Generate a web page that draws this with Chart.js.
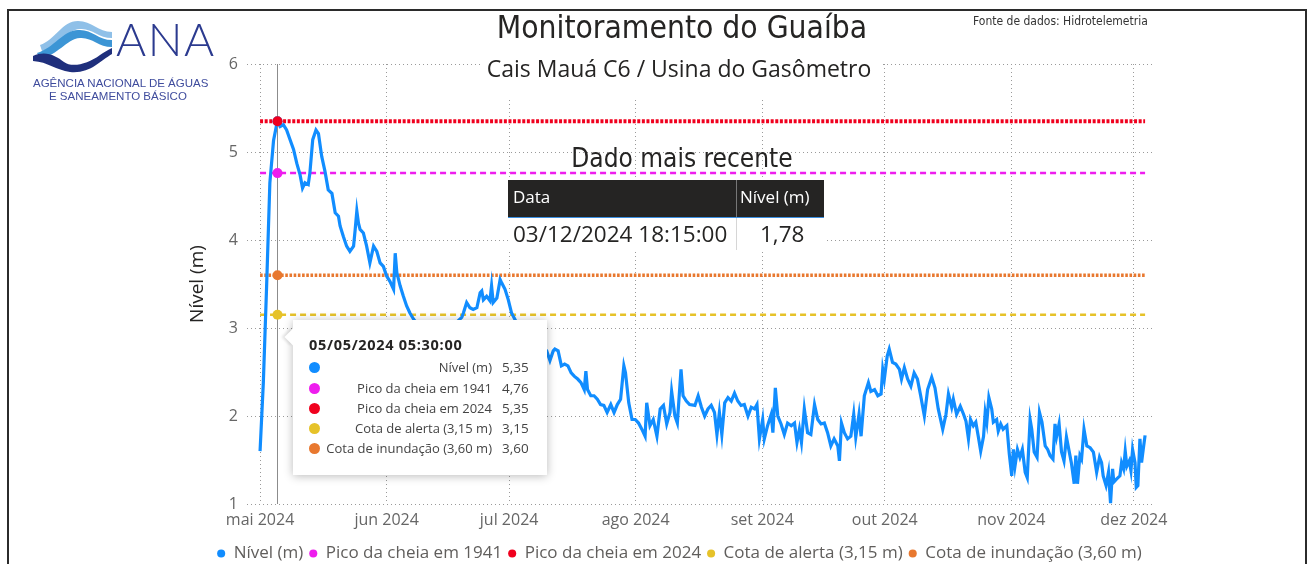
<!DOCTYPE html>
<html lang="pt-BR">
<head>
<meta charset="utf-8">
<title>Monitoramento do Guaíba</title>
<script src="https://cdn.jsdelivr.net/npm/chart.js@4.4.1/dist/chart.umd.min.js"></script>
<style>
    body { margin: 0; background: #fff; }
    #pagina { position: relative; width: 1312px; height: 564px; overflow: hidden; background: #fff; }
    #moldura { position: absolute; left: 7px; top: 9px; width: 1300px; height: 620px; border: 2px solid #2b2b2b; box-sizing: border-box; }
    #grafico { position: absolute; left: 0; top: 0; }
    .txt { position: absolute; white-space: nowrap; color: #252423; }
    .din { font-family: 'DejaVu Sans Condensed', 'DejaVu Sans', sans-serif; }
    .ui { font-family: 'Open Sans', 'Noto Sans', sans-serif; }
    #logoTexto { position: absolute; left: 116px; top: 16px; font-family: Lato, 'Open Sans', sans-serif; font-weight: 300; font-size: 46px; letter-spacing: 1.5px; color: #2b3a8f; line-height: 1; }
    .logoSub { position: absolute; font-family: 'Liberation Sans', Arial, sans-serif; font-size: 11.5px; color: #3f4c9d; line-height: 1; }
    #fundoSubtitulo { position: absolute; left: 482px; top: 48px; width: 400px; height: 49px; background: #fff; }
    #tabela { position: absolute; left: 508px; top: 180px; width: 316px; }
    #cabecalho { position: relative; height: 37px; background: #252423; border-bottom: 1px solid #3b8fe0; }
    #linha { position: relative; height: 32px; background: #fff; }
    .sep { position: absolute; left: 228px; top: 0; width: 1px; height: 100%; }
    #dica { position: absolute; left: 293px; top: 320px; width: 254px; height: 155px; background: #fff; box-shadow: 0 1px 9px rgba(0,0,0,0.28); }
    #ponta { position: absolute; left: -6px; top: 11px; width: 12px; height: 12px; background: #fff; transform: rotate(45deg); box-shadow: -2px 2px 3px rgba(0,0,0,0.12); }
    #dicaCorpo { position: absolute; left: 0; top: 0; width: 254px; height: 155px; background: #fff; }
    .bolinha { position: absolute; width: 11px; height: 11px; border-radius: 50%; }
</style>
</head>
<body>
<div id="pagina">
    <canvas id="grafico" width="1312" height="580"></canvas>
    <div id="moldura"></div>

    <!-- Logo da ANA -->
    <svg style="position:absolute; left:0; top:0" width="120" height="80">
        <path d="M40,45 C55,40 62,21 78,21 C92,21 98,32 112,32 L112,38 C98,38 92,28 80,29 C66,30 58,47 42,51 Z" fill="#8fc0e8"/>
        <path d="M37,53 C54,48 62,31 78,30 C92,29 98,40 112,40 L112,47 C98,47 92,37 80,38 C66,39 58,56 40,58 Z" fill="#3c95d5"/>
        <path d="M33,56 C46,50 56,56 64,62 C72,68 88,64 100,55 C104,52 108,50 112,48 L112,54 C100,61 90,74 70,72 C56,70 48,62 33,61 Z" fill="#1f2f7c"/>
    </svg>
    <div id="logoTexto">ANA</div>
    <div class="logoSub" style="left:33px; top:78px;">AGÊNCIA NACIONAL DE ÁGUAS</div>
    <div class="logoSub" style="left:49px; top:91px;">E SANEAMENTO BÁSICO</div>

    <div class="txt din" id="titulo" style="left:432px; width:500px; text-align:center; top:12px; font-size:31.5px; line-height:1;">Monitoramento do Guaíba</div>
    <div class="txt din" id="fonte" style="left:973px; top:15px; font-size:12px; line-height:1; color:#333;">Fonte de dados: Hidrotelemetria</div>

    <div id="fundoSubtitulo"></div>
    <div class="txt ui" id="subtitulo" style="left:479px; width:400px; text-align:center; top:55px; font-size:23px; line-height:1.2;">Cais Mauá C6 / Usina do Gasômetro</div>

    <div class="txt din" id="tituloTabela" style="left:482px; width:400px; text-align:center; top:145px; font-size:26px; line-height:1;">Dado mais recente</div>
    <div id="tabela">
        <div id="cabecalho">
            <div class="txt ui" style="left:5px; top:7px; font-size:17px; line-height:1.2; color:#fff;">Data</div>
            <div class="sep" style="background:#777;"></div>
            <div class="txt ui" style="left:232px; top:7px; font-size:17px; line-height:1.2; color:#fff;">Nível (m)</div>
        </div>
        <div id="linha">
            <div class="txt ui" id="ultimaData" style="left:5px; top:2px; font-size:22.5px; line-height:1.2;"></div>
            <div class="sep" style="background:#d6d6d6;"></div>
            <div class="txt ui" id="ultimoNivel" style="left:252px; top:2px; font-size:22.5px; line-height:1.2;"></div>
        </div>
    </div>

    <div id="dica">
        <div id="ponta"></div>
        <div id="dicaCorpo"></div>
    </div>
</div>

<script>
// Dias contados a partir de 01/05/2024 00:00 e nível medido (m)
const nivelDias = [
    0.0, 0.8, 1.6, 2.4, 3.3, 4.23, 4.9, 5.7, 6.5, 7.35, 8.2, 9.0, 9.8, 10.4, 11.0, 11.8, 12.2, 12.9, 13.7, 14.3,
    15.1, 15.9, 16.7, 17.6, 18.4, 19.2, 19.6, 20.4, 21.2, 22.0, 22.9, 23.3, 23.7, 24.1, 24.5, 25.3, 26.1, 26.9, 27.8, 28.6,
    29.4, 30.2, 31.0, 31.8, 32.7, 33.1, 33.5, 34.3, 35.1, 35.9, 36.7, 37.6, 39.0, 41.0, 43.0, 45.0, 47.0, 48.5, 49.4, 49.8,
    50.6, 51.4, 52.2, 53.1, 53.9, 54.3, 54.7, 55.5, 56.3, 56.7, 57.1, 58.0, 58.8, 59.2, 60.0, 60.8, 61.6, 62.4, 64.0, 66.0,
    68.0, 69.5, 70.2, 71.0, 71.8, 72.2, 73.0, 73.8, 74.6, 75.4, 76.2, 77.0, 77.8, 78.6, 79.4, 79.8, 80.2, 81.0, 81.8, 82.6,
    83.4, 84.2, 85.0, 85.9, 86.7, 87.5, 88.3, 89.1, 89.5, 90.3, 91.1, 91.9, 92.7, 93.5, 94.3, 94.7, 95.5, 96.3, 97.2, 98.0,
    98.8, 99.6, 100.4, 100.8, 101.6, 102.2, 103.1, 103.6, 104.4, 105.2, 106.5, 107.3, 108.1, 108.9, 109.7, 110.5, 111.3, 111.9, 112.5, 113.1,
    113.8, 114.6, 115.4, 116.2, 117.0, 117.8, 118.6, 119.5, 120.3, 121.1, 121.7, 122.3, 123.1, 123.5, 124.3, 125.2, 125.6, 126.2, 126.8, 127.6,
    128.4, 129.2, 130.1, 130.9, 131.5, 132.1, 132.6, 133.3, 134.1, 134.9, 135.8, 136.6, 137.4, 138.2, 139.0, 139.8, 140.6, 141.5, 141.9, 142.4,
    143.1, 143.9, 144.7, 145.4, 145.9, 146.7, 147.2, 148.0, 149.0, 149.6, 150.5, 151.3, 152.1, 152.5, 152.9, 153.6, 154.1, 154.9, 155.7, 156.6,
    157.1, 157.8, 158.6, 159.4, 160.2, 161.0, 161.8, 162.7, 163.5, 164.5, 165.3, 166.1, 167.2, 168.0, 168.6, 169.4, 169.8, 170.6, 171.5, 172.3,
    172.9, 173.5, 174.0, 174.7, 175.3, 175.9, 176.5, 177.2, 177.6, 178.0, 178.5, 179.2, 179.6, 180.4, 180.8, 181.4, 182.0, 182.9, 183.5, 184.1,
    184.5, 184.9, 185.5, 186.1, 186.7, 187.4, 187.9, 188.6, 189.0, 189.6, 190.3, 190.9, 191.5, 192.3, 192.9, 193.5, 194.2, 194.7, 195.1, 195.7,
    196.3, 196.9, 197.5, 198.2, 198.7, 199.4, 199.8, 200.2, 200.8, 201.2, 201.8, 202.5, 203.3, 204.1, 204.9, 205.6, 206.1, 206.5, 207.2, 207.8,
    208.3, 208.8, 209.1, 209.7, 210.6, 211.0, 211.5, 211.9, 212.3, 212.9, 213.3, 213.7, 214.3, 214.6, 215.0, 215.5, 215.9, 216.3, 216.76
];
const nivelValores = [
    1.60, 2.38, 3.47, 4.65, 5.13, 5.35, 5.29, 5.31, 5.25, 5.14, 5.03, 4.87, 4.74, 4.59, 4.65, 4.63, 4.76, 5.14, 5.25, 5.21,
    4.95, 4.78, 4.57, 4.53, 4.31, 4.27, 4.16, 4.04, 3.93, 3.87, 3.93, 4.12, 4.33, 4.19, 4.12, 4.08, 3.93, 3.74, 3.93, 3.87,
    3.74, 3.70, 3.59, 3.53, 3.44, 3.85, 3.63, 3.48, 3.36, 3.25, 3.17, 3.10, 3.02, 2.95, 2.90, 2.93, 3.00, 3.08, 3.12, 3.17,
    3.29, 3.23, 3.21, 3.23, 3.40, 3.42, 3.32, 3.36, 3.31, 3.48, 3.29, 3.34, 3.55, 3.51, 3.44, 3.32, 3.17, 3.10, 2.95, 2.85,
    2.78, 2.75, 2.74, 2.63, 2.74, 2.76, 2.74, 2.57, 2.59, 2.57, 2.49, 2.45, 2.42, 2.38, 2.30, 2.51, 2.30, 2.23, 2.23, 2.19,
    2.13, 2.12, 2.04, 2.13, 2.04, 2.13, 2.19, 2.57, 2.49, 2.15, 1.96, 1.96, 1.92, 1.85, 1.77, 2.15, 1.89, 1.96, 1.77, 2.08,
    2.12, 1.91, 2.04, 2.28, 2.00, 1.92, 2.53, 2.23, 2.17, 2.13, 2.12, 2.23, 2.10, 2.00, 2.08, 2.12, 2.04, 1.79, 2.04, 1.79,
    2.15, 2.21, 2.17, 2.26, 2.17, 2.12, 2.13, 2.00, 2.10, 2.08, 2.13, 1.74, 1.96, 1.74, 1.89, 2.02, 1.81, 2.32, 2.00, 1.91,
    1.79, 1.92, 1.89, 1.92, 1.70, 1.85, 1.70, 2.08, 1.81, 1.79, 2.13, 1.96, 1.91, 1.92, 1.81, 1.66, 1.74, 1.66, 1.49, 1.92,
    1.81, 1.74, 1.77, 2.02, 1.76, 2.02, 1.77, 2.23, 2.38, 2.28, 2.30, 2.23, 2.25, 2.53, 2.42, 2.68, 2.76, 2.61, 2.59, 2.53,
    2.42, 2.55, 2.42, 2.34, 2.49, 2.42, 2.23, 2.00, 2.30, 2.44, 2.32, 2.08, 1.85, 2.02, 2.25, 2.10, 2.19, 2.02, 2.11, 2.02,
    1.94, 1.74, 1.96, 1.89, 1.93, 1.77, 1.60, 1.77, 2.04, 1.93, 2.21, 2.08, 1.93, 1.96, 1.83, 1.91, 1.85, 1.89, 1.57, 1.32,
    1.62, 1.43, 1.62, 1.53, 1.62, 1.36, 1.30, 1.96, 1.85, 1.59, 1.53, 2.04, 1.93, 1.66, 1.62, 1.55, 1.51, 1.91, 1.77, 1.91,
    1.59, 1.49, 1.76, 1.59, 1.47, 1.23, 1.55, 1.23, 1.55, 1.51, 1.85, 1.66, 1.64, 1.59, 1.36, 1.53, 1.47, 1.32, 1.21, 1.36,
    1.01, 1.40, 1.25, 1.28, 1.32, 1.47, 1.40, 1.60, 1.43, 1.49, 1.38, 1.62, 1.47, 1.19, 1.21, 1.74, 1.47, 1.62, 1.78
];

// Linhas de referência
const referenciaNomes = ['Pico da cheia em 1941', 'Pico da cheia em 2024', 'Cota de alerta (3,15 m)', 'Cota de inundação (3,60 m)'];
const referenciaValores = [4.76, 5.35, 3.15, 3.60];

// Eixo X: início de cada mês (dias desde 01/05/2024)
const mesesInicio = [0, 31, 61, 92, 123, 153, 184, 214];
const mesesRotulos = ['mai 2024', 'jun 2024', 'jul 2024', 'ago 2024', 'set 2024', 'out 2024', 'nov 2024', 'dez 2024'];
const eixoYTicks = [1, 2, 3, 4, 5, 6];

// Ponto destacado (dica) e dado mais recente
const diaDestaque = 4.23;
const dataDestaque = '05/05/2024 05:30:00';
const nivelDestaque = 5.35;
const ultimaData = '03/12/2024 18:15:00';
const ultimoNivel = 1.78;

const cores = ['#118DFF', '#EE1DEE', '#F0001E', '#E6C229', '#E8782F'];
const fonteUI = "'Open Sans', 'Noto Sans', sans-serif";

function formataNumero(v) {
    return v.toFixed(2).replace('.', ',');
}

// Linha vertical e bolinhas do ponto destacado
const marcadorDestaque = {
    id: 'marcadorDestaque',
    afterDatasetsDraw(chart) {
        const { ctx, chartArea, scales } = chart;
        const px = Math.round(scales.x.getPixelForValue(diaDestaque)) + 0.5;
        ctx.save();
        ctx.strokeStyle = '#8c8c8c';
        ctx.lineWidth = 1;
        ctx.beginPath();
        ctx.moveTo(px, chartArea.top);
        ctx.lineTo(px, chartArea.bottom);
        ctx.stroke();
        const valores = [nivelDestaque].concat(referenciaValores);
        valores.forEach((v, i) => {
            ctx.fillStyle = cores[i];
            ctx.beginPath();
            ctx.arc(px, scales.y.getPixelForValue(v), 5, 0, Math.PI * 2);
            ctx.fill();
        });
        ctx.restore();
    }
};

// Desloca a legenda para ficar centralizada como no original
const ajusteLegenda = {
    id: 'ajusteLegenda',
    afterLayout(chart) {
        chart.legend.left += 18;
        chart.legend.right += 18;
    }
};

function montaGrafico() {
    const ctx = document.getElementById('grafico').getContext('2d');
    const inicio = nivelDias[0];
    const fim = nivelDias[nivelDias.length - 1];

    const datasets = [{
        label: 'Nível (m)',
        data: nivelDias.map((d, i) => ({ x: d, y: nivelValores[i] })),
        borderColor: cores[0],
        backgroundColor: cores[0],
        borderWidth: 3.2,
        pointRadius: 0,
        tension: 0
    }];

    const estilos = [
        { largura: 2.5, traco: [6, 4] },
        { largura: 4, traco: [3, 1.6] },
        { largura: 2.5, traco: [6, 4] },
        { largura: 3.4, traco: [2.6, 1.6] }
    ];
    referenciaNomes.forEach((nome, i) => {
        datasets.push({
            label: nome,
            data: [{ x: inicio, y: referenciaValores[i] }, { x: fim, y: referenciaValores[i] }],
            borderColor: cores[i + 1],
            backgroundColor: cores[i + 1],
            borderWidth: estilos[i].largura,
            borderDash: estilos[i].traco,
            borderCapStyle: 'butt',
            pointRadius: 0
        });
    });

    new Chart(ctx, {
        type: 'line',
        data: { datasets: datasets },
        options: {
            responsive: false,
            animation: false,
            layout: { padding: { left: 170, right: 159, top: 64, bottom: 8 } },
            plugins: {
                tooltip: { enabled: false },
                legend: {
                    position: 'bottom',
                    labels: {
                        usePointStyle: true,
                        pointStyle: 'circle',
                        boxWidth: 8,
                        boxHeight: 5.7,
                        padding: 6,
                        color: '#605E5C',
                        font: { family: fonteUI, size: 17 },
                        generateLabels(chart) {
                            const itens = Chart.defaults.plugins.legend.labels.generateLabels(chart);
                            itens.forEach(item => { item.lineWidth = 0; item.lineDash = []; });
                            return itens;
                        }
                    }
                }
            },
            scales: {
                x: {
                    type: 'linear',
                    min: -3.2,
                    max: 218.7,
                    afterBuildTicks(scale) {
                        scale.ticks = mesesInicio.map(v => ({ value: v }));
                    },
                    afterFit(scale) { scale.height = 35; },
                    ticks: {
                        autoSkip: false,
                        maxRotation: 0,
                        padding: 7,
                        color: '#666666',
                        font: { family: fonteUI, size: 16 },
                        callback: (value, index) => mesesRotulos[index]
                    },
                    grid: { color: '#9a9a9a', lineWidth: 1, drawTicks: false },
                    border: { display: false, dash: [1, 3] }
                },
                y: {
                    min: 1,
                    max: 6,
                    afterBuildTicks(scale) {
                        scale.ticks = eixoYTicks.map(v => ({ value: v }));
                    },
                    afterFit(scale) { scale.width = 77; },
                    ticks: {
                        padding: 9,
                        color: '#666666',
                        font: { family: fonteUI, size: 16 }
                    },
                    title: {
                        display: true,
                        text: 'Nível (m)',
                        color: '#252423',
                        font: { family: fonteUI, size: 19 },
                        padding: { top: 16, bottom: 0 }
                    },
                    grid: { color: '#9a9a9a', lineWidth: 1, drawTicks: false },
                    border: { display: false, dash: [1, 3] }
                }
            }
        },
        plugins: [marcadorDestaque, ajusteLegenda]
    });
}

// Monta a caixa de dica com os valores do ponto destacado
function montaDica() {
    const corpo = document.getElementById('dicaCorpo');
    const nomes = ['Nível (m)'].concat(referenciaNomes);
    const valores = [nivelDestaque].concat(referenciaValores);
    const linhasY = [48, 69, 89, 109, 129];

    let html = '<div class="txt ui" style="left:16px; top:16px; font-size:14.5px; font-weight:700; letter-spacing:0.7px; line-height:1.2;">' + dataDestaque + '</div>';
    nomes.forEach((nome, i) => {
        const y = linhasY[i];
        html += '<div class="bolinha" style="left:16px; top:' + (y - 6) + 'px; background:' + cores[i] + ';"></div>';
        html += '<div class="txt ui" style="right:55px; top:' + (y - 10) + 'px; font-size:13px; line-height:1.5; color:#444;">' + nome + '</div>';
        html += '<div class="txt ui" style="left:209px; top:' + (y - 10) + 'px; font-size:13.5px; line-height:1.4; color:#444;">' + formataNumero(valores[i]) + '</div>';
    });
    corpo.innerHTML = html;
}

document.getElementById('ultimaData').textContent = ultimaData;
document.getElementById('ultimoNivel').textContent = formataNumero(ultimoNivel);
montaDica();
montaGrafico();
</script>
</body>
</html>
